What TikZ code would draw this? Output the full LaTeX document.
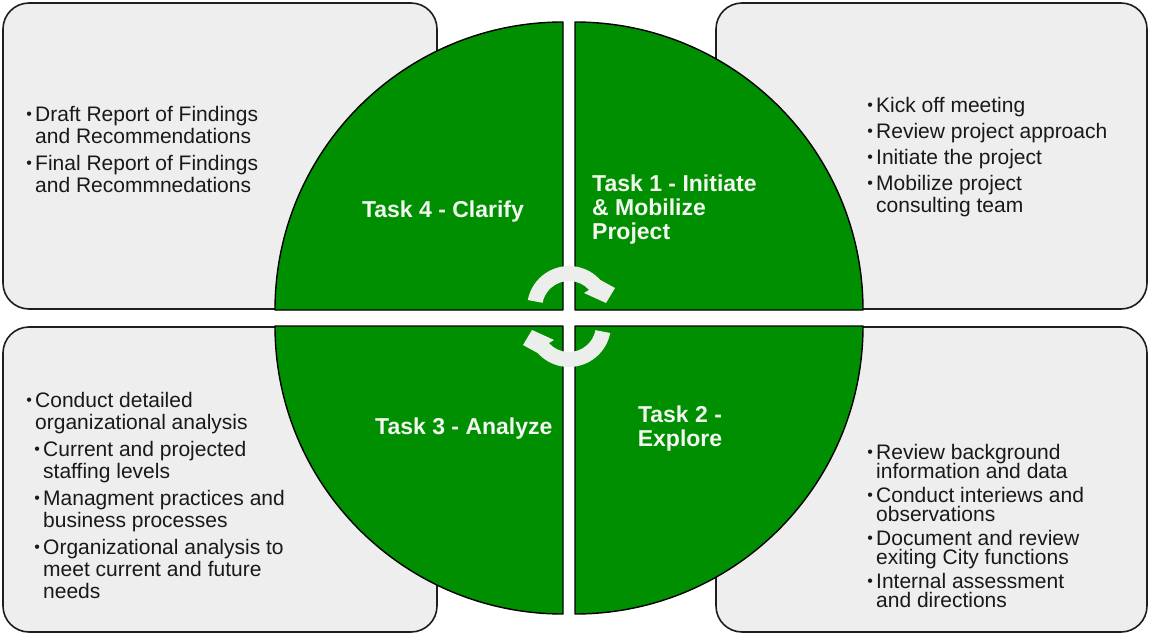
\documentclass[tikz,border=0pt]{standalone}
\usepackage{fontspec}
\setmainfont{Liberation Sans}
\definecolor{taskgreen}{RGB}{0,143,0}
\definecolor{panelgray}{RGB}{238,238,238}
\definecolor{panelline}{RGB}{30,30,30}
\definecolor{arrowgray}{RGB}{235,238,235}
\definecolor{labelwhite}{RGB}{242,248,240}
\definecolor{bodytext}{RGB}{25,25,25}
% bullet glyph, indent and first-line strut for the text blocks
\newcommand{\bul}{\makebox[8pt][l]{\hspace*{-0.8pt}\raisebox{2pt}{\fontsize{16}{16}\selectfont\char"2022}}}
\newcommand{\ind}{\hspace*{8pt}}
\newcommand{\firststrut}{\rule{0pt}{16pt}}
\newcommand{\labelstrut}{\rule{0pt}{17.5pt}}
\begin{document}
\lineskiplimit=-5pt\relax
\begin{tikzpicture}[x=1pt,y=-1pt,
  panel/.style={draw=panelline, line width=1.6pt, fill=panelgray, rounded corners=26pt},
  quadrant/.style={fill=taskgreen, draw=black, line width=1.4pt, line join=round},
  cycarrow/.style={fill=arrowgray, draw=none},
  tasklabel/.style={text=labelwhite, font=\fontsize{23}{24}\selectfont\bfseries, inner sep=0pt},
  bullets/.style={text=bodytext, font=\fontsize{21}{22}\selectfont, align=left, inner sep=0pt, anchor=north west},
]
\useasboundingbox (0,0) rectangle (1149,634);

% corner panels
\draw[panel] (3,3) rectangle (437,309);
\draw[panel] (716,3) rectangle (1147,309);
\draw[panel] (3,327) rectangle (437,632);
\draw[panel] (716,327) rectangle (1147,632);

% four quarter discs
\draw[quadrant] (563,310) -- (275,310) arc[start angle=180, end angle=270, radius=288] -- cycle;
\draw[quadrant] (575,310) -- (575,22) arc[start angle=270, end angle=360, radius=288] -- cycle;
\draw[quadrant] (563,326) -- (563,614) arc[start angle=90, end angle=180, radius=288] -- cycle;
\draw[quadrant] (575,326) -- (863,326) arc[start angle=0, end angle=90, radius=288] -- cycle;

% cycle arrows in the centre
\foreach \rot in {0,180}{
  \fill[cycarrow, rotate around={\rot:(569,316.5)}]
    (527.8,300) arc[start angle=191, end angle=318, radius=42]
    -- (615,288) -- (606,303) -- (584,293) -- (589.1,289.9)
    arc[start angle=318, end angle=191, radius=27] -- cycle;
}

% task labels
\node[tasklabel, anchor=base] (t4) at (443,217) {Task 4 - Clarify};
\node[tasklabel, anchor=base west] (t3) at (375,434) {Task 3 - Analyze};
\node[tasklabel, anchor=north west, align=left] (t1) at (592,173.5)
  {\labelstrut Task 1 - Initiate\\\& Mobilize\\Project};
\node[tasklabel, anchor=north, align=center] (t2) at (680,404.5)
  {\labelstrut Task 2 -\\Explore};

% bullet lists
\node[bullets] (clarify) at (27,105)
  {\firststrut\bul Draft Report of Findings\\\ind and Recommendations\\[5pt]\bul Final Report of Findings\\\ind and Recommnedations};
\node[bullets] (initiate) at (868,96)
  {\firststrut\bul Kick off meeting\\[4pt]\bul Review project approach\\[4pt]\bul Initiate the project\\[4pt]\bul Mobilize project\\\ind consulting team};
\node[bullets] (analyze) at (27,391)
  {\firststrut\bul Conduct detailed\\\ind organizational analysis\\[5pt]\ind\bul Current and projected\\\ind\ind staffing levels\\[5pt]\ind\bul Managment practices and\\\ind\ind business processes\\[5pt]\ind\bul Organizational analysis to\\\ind\ind meet current and future\\\ind\ind needs};
\node[bullets, font=\fontsize{21}{19.5}\selectfont] (explore) at (868,443)
  {\firststrut\bul Review background\\\ind information and data\\[4pt]\bul Conduct interiews and\\\ind observations\\[4pt]\bul Document and review\\\ind exiting City functions\\[4pt]\bul Internal assessment\\\ind and directions};
\end{tikzpicture}
\end{document}
